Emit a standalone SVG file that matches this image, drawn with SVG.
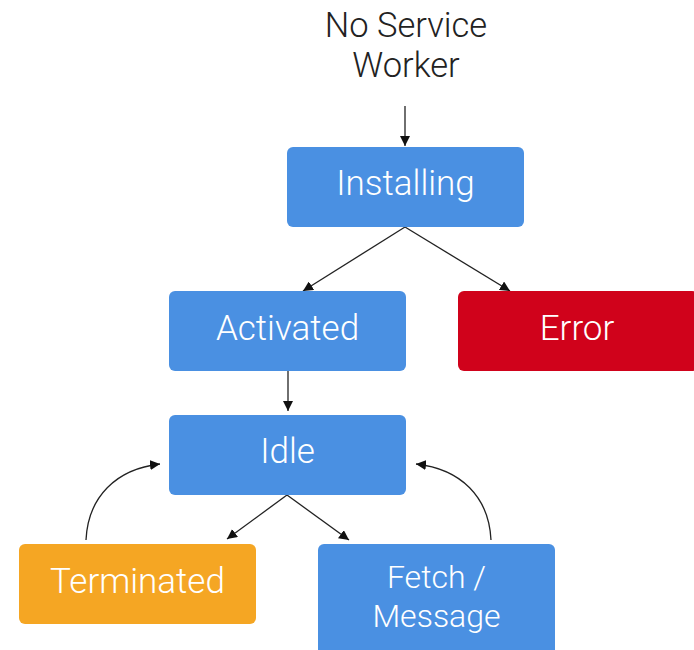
<svg xmlns="http://www.w3.org/2000/svg" width="694" height="650" viewBox="0 0 694 650">
<style>
.box{stroke:none}
.blue{fill:#4A90E2}
.red{fill:#D0021B}
.orange{fill:#F5A623}
.lbl{font-family:"Roboto Light",Roboto,"Liberation Sans",sans-serif;font-weight:300;font-size:35px;fill:#fff;text-anchor:middle}
.sm{font-size:32px}
.title{font-family:"Roboto Light",Roboto,"Liberation Sans",sans-serif;font-weight:300;font-size:34.5px;fill:#222;text-anchor:middle}
.edge{fill:none;stroke:#222;stroke-width:1.3}
</style>
<defs>
<marker id="ah" viewBox="0 0 10 10" refX="10" refY="5" markerWidth="10" markerHeight="10" markerUnits="userSpaceOnUse" orient="auto">
<path d="M0,0 L10,5 L0,10 z" fill="#111"/>
</marker>
</defs>
<rect width="694" height="650" fill="#fff"/>
<g id="start">
<text class="title" x="406" y="37">No Service</text>
<text class="title" x="406" y="77">Worker</text>
</g>
<g id="connectors">
<path class="edge" d="M405,106 L405,146" marker-end="url(#ah)"/>
<path class="edge" d="M405,227 L303,291" marker-end="url(#ah)"/>
<path class="edge" d="M405,227 L510,291" marker-end="url(#ah)"/>
<path class="edge" d="M288,371 L288,411" marker-end="url(#ah)"/>
<path class="edge" d="M287,495 L227,539" marker-end="url(#ah)"/>
<path class="edge" d="M287,495 L349,540" marker-end="url(#ah)"/>
<path class="edge" d="M86,540 C88,497 116,469 160,464" marker-end="url(#ah)"/>
<path class="edge" d="M491,540 C489,497 461,469 416,464" marker-end="url(#ah)"/>
</g>
<g id="installing">
<rect class="box blue" x="287" y="147" width="237" height="80" rx="6"/>
<text class="lbl" x="405.5" y="195">Installing</text>
</g>
<g id="activated">
<rect class="box blue" x="169" y="291" width="237" height="80" rx="6"/>
<text class="lbl" x="287.5" y="340">Activated</text>
</g>
<g id="error">
<rect class="box red" x="458" y="291" width="240" height="80" rx="6"/>
<text class="lbl" x="577" y="340">Error</text>
</g>
<g id="idle">
<rect class="box blue" x="169" y="415" width="237" height="80" rx="6"/>
<text class="lbl" x="287.5" y="463">Idle</text>
</g>
<g id="terminated">
<rect class="box orange" x="19" y="544" width="237" height="80" rx="6"/>
<text class="lbl" x="137.5" y="593">Terminated</text>
</g>
<g id="fetch">
<rect class="box blue" x="318" y="544" width="237" height="112" rx="6"/>
<text class="lbl sm" x="436.5" y="588">Fetch /</text>
<text class="lbl sm" x="436.5" y="627">Message</text>
</g>
</svg>
